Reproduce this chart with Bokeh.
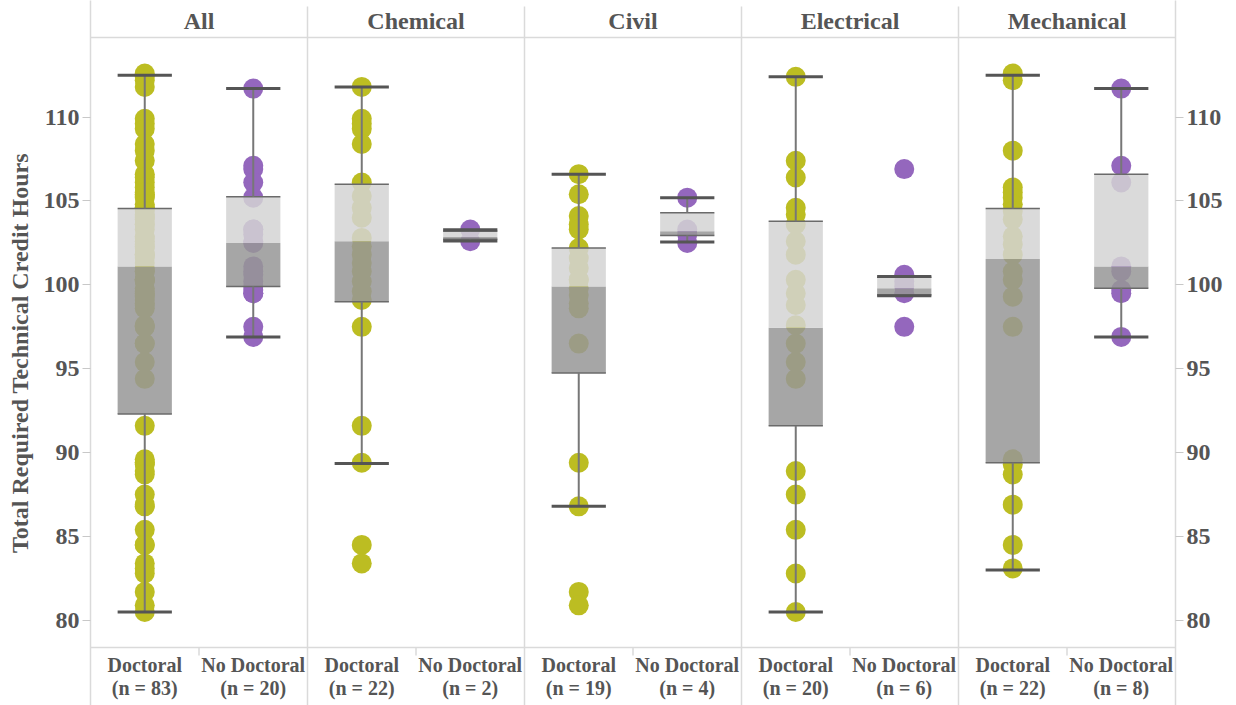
from bokeh.plotting import figure
from bokeh.models import Range1d, LinearAxis, FixedTicker, ColumnDataSource, BoxAnnotation
from bokeh.embed import file_html
from bokeh.resources import INLINE
from bokeh.core.properties import value

# ---------------- data ----------------
departments = ["All", "Chemical", "Civil", "Electrical", "Mechanical"]
groups = ["Doctoral", "No Doctoral"]

chem_doc = [111.8, 109.9, 109.6, 109.3, 108.4, 106.1, 105.3, 104.6, 104.0, 102.8, 102.3,
            101.8, 101.3, 100.8, 100.2, 99.6, 99.1, 97.5, 91.6, 89.4, 84.5, 83.4]
chem_nodoc = [103.3, 102.6]
civil_doc = [106.6, 105.4, 104.1, 103.6, 103.3, 102.2, 101.6, 101.0, 100.3, 100.3,
             99.8, 99.4, 98.9, 98.6, 96.5, 89.4, 86.8, 81.7, 80.9]
civil_nodoc = [105.2, 103.3, 103.0, 102.5]
elec_doc = [112.4, 107.4, 106.4, 104.6, 104.2, 103.6, 102.6, 101.8, 100.3, 99.5,
            98.8, 97.6, 96.5, 95.4, 94.4, 88.9, 87.5, 85.4, 82.8, 80.5]
elec_nodoc = [106.9, 100.6, 100.2, 99.9, 99.5, 97.5]
mech_doc = [112.6, 112.2, 108.0, 105.8, 105.5, 105.2, 104.8, 104.4, 103.9, 102.9, 102.4,
            101.8, 100.8, 100.3, 99.3, 97.5, 89.6, 89.3, 88.7, 86.9, 84.5, 83.1]
mech_nodoc = [111.7, 107.1, 106.1, 101.1, 100.8, 99.7, 99.5, 96.9]

all_doc = chem_doc + civil_doc + elec_doc + mech_doc
all_nodoc = chem_nodoc + civil_nodoc + elec_nodoc + mech_nodoc

point_sets = [all_doc, all_nodoc, chem_doc, chem_nodoc, civil_doc, civil_nodoc,
              elec_doc, elec_nodoc, mech_doc, mech_nodoc]

# box-plot statistics (order: All D, All ND, Chem D, Chem ND, Civil D, Civil ND, Elec D, Elec ND, Mech D, Mech ND)
whisker_low = [80.5, 96.9, 89.35, 102.62, 86.8, 102.55, 80.5, 99.35, 83.0, 96.9]
q1 = [92.3, 99.9, 99.0, 102.72, 94.75, 102.95, 91.6, 99.4, 89.4, 99.8]
median = [101.1, 102.5, 102.6, 102.85, 99.9, 103.2, 97.45, 99.8, 101.55, 101.1]
q3 = [104.55, 105.25, 106.0, 103.2, 102.2, 104.3, 103.8, 100.45, 104.55, 106.6]
whisker_high = [112.5, 111.7, 111.8, 103.28, 106.6, 105.2, 112.4, 100.5, 112.5, 111.7]

y_ticks = [80, 85, 90, 95, 100, 105, 110]
y_title = "Total Required Technical Credit Hours"
group_colors = ["#bcbd22", "#9467bd"]

# ---------------- layout constants ----------------
FONT = value("Liberation Serif")
TXT = "#555555"
GRID = "#dadada"
W, H = 1236, 705
LEFT_B, RIGHT_B = 90, 61
Y_TOP, Y_BOTTOM = 116.95, 74.93
HEADER_LINE, BOTTOM_LINE = 114.74, 78.39
HEADER_MID = 115.70
LAB1_MID, LAB2_MID = 77.32, 75.95
HALF = 0.25
PX = (Y_TOP - Y_BOTTOM) / H  # data units per pixel

n_cat = len(point_sets)
centers = [i + 0.5 for i in range(n_cat)]

p = figure(width=W, height=H, x_range=Range1d(0, n_cat), y_range=Range1d(Y_BOTTOM, Y_TOP),
           output_backend="svg", toolbar_location=None, x_axis_location=None,
           min_border_left=LEFT_B, min_border_right=RIGHT_B, min_border_top=0, min_border_bottom=0)
p.xgrid.visible = False
p.ygrid.visible = False
p.outline_line_color = None

# axes
def style_axis(ax):
    ax.ticker = FixedTicker(ticks=y_ticks, minor_ticks=[])
    ax.axis_line_color = GRID
    ax.axis_line_width = 1.5
    ax.major_tick_line_color = "#c8c8c8"
    ax.major_tick_out = 8
    ax.major_tick_in = 0
    ax.minor_tick_line_color = None
    ax.major_label_text_font = "Liberation Serif"
    ax.major_label_text_font_style = "bold"
    ax.major_label_text_font_size = "24px"
    ax.major_label_text_color = TXT
    ax.major_label_standoff = 3

style_axis(p.yaxis[0])
p.yaxis[0].axis_label = y_title
p.yaxis[0].axis_label_text_font = "Liberation Serif"
p.yaxis[0].axis_label_text_font_style = "bold"
p.yaxis[0].axis_label_text_font_size = "24px"
p.yaxis[0].axis_label_text_color = TXT
p.yaxis[0].axis_label_standoff = 8

right_axis = LinearAxis()
style_axis(right_axis)
p.add_layout(right_axis, "right")

# grid / separators
top_sep = Y_TOP - 6 * PX
sep_panels = [k for k in range(2, n_cat, 2)]
p.segment(x0=sep_panels, x1=sep_panels, y0=[top_sep] * len(sep_panels), y1=[Y_BOTTOM] * len(sep_panels),
          line_color=GRID, line_width=1.5)
for yv in (HEADER_LINE, BOTTOM_LINE):
    p.segment(x0=[0], x1=[n_cat], y0=[yv], y1=[yv], line_color=GRID, line_width=1.5)
    for l, r in ((7, LEFT_B), (W - RIGHT_B, W)):
        p.add_layout(BoxAnnotation(left=l, right=r, left_units="canvas", right_units="canvas",
                                   bottom=yv - 0.75 * PX, top=yv + 0.75 * PX,
                                   fill_color=GRID, fill_alpha=1, line_color=None))
sep_x = [k for k in range(1, n_cat, 2)]
p.segment(x0=sep_x, x1=sep_x, y0=[BOTTOM_LINE] * len(sep_x), y1=[BOTTOM_LINE - 8 * PX] * len(sep_x),
          line_color=GRID, line_width=1.5)

# points
xs, ys, cs = [], [], []
for i, pts in enumerate(point_sets):
    xs += [centers[i]] * len(pts)
    ys += pts
    cs += [group_colors[i % 2]] * len(pts)
p.scatter(x="x", y="y", fill_color="c", line_color=None, size=20,
          source=ColumnDataSource(dict(x=xs, y=ys, c=cs)))

# boxes
left = [c - HALF for c in centers]
right = [c + HALF for c in centers]
p.quad(left=left, right=right, bottom=q1, top=median, fill_color="#979797", fill_alpha=0.85, line_color=None)
p.quad(left=left, right=right, bottom=median, top=q3, fill_color="#d3d3d3", fill_alpha=0.85, line_color=None)
p.segment(x0=left, x1=right, y0=q3, y1=q3, line_color="#6a6a6a", line_width=1.5)
p.segment(x0=left, x1=right, y0=q1, y1=q1, line_color="#6a6a6a", line_width=1.5)
# whiskers
p.segment(x0=centers, x1=centers, y0=q3, y1=whisker_high, line_color="#777777", line_width=2)
p.segment(x0=centers, x1=centers, y0=q1, y1=whisker_low, line_color="#777777", line_width=2)
p.segment(x0=left, x1=right, y0=whisker_high, y1=whisker_high, line_color="#555555", line_width=3)
p.segment(x0=left, x1=right, y0=whisker_low, y1=whisker_low, line_color="#555555", line_width=3)

# headers
p.text(x=[2 * k + 1 for k in range(len(departments))], y=[HEADER_MID] * len(departments), text=departments,
       text_align="center", text_baseline="middle", text_font=FONT, text_font_style="bold",
       text_font_size="24px", text_color=TXT)

# category labels
lab1 = [groups[i % 2] for i in range(n_cat)]
lab2 = ["(n = %d)" % len(pts) for pts in point_sets]
p.text(x=centers, y=[LAB1_MID] * n_cat, text=lab1, text_align="center", text_baseline="middle",
       text_font=FONT, text_font_style="bold", text_font_size="20px", text_color=TXT)
p.text(x=centers, y=[LAB2_MID] * n_cat, text=lab2, text_align="center", text_baseline="middle",
       text_font=FONT, text_font_style="bold", text_font_size="20px", text_color=TXT)

open("out.html", "w").write(file_html(p, INLINE))
